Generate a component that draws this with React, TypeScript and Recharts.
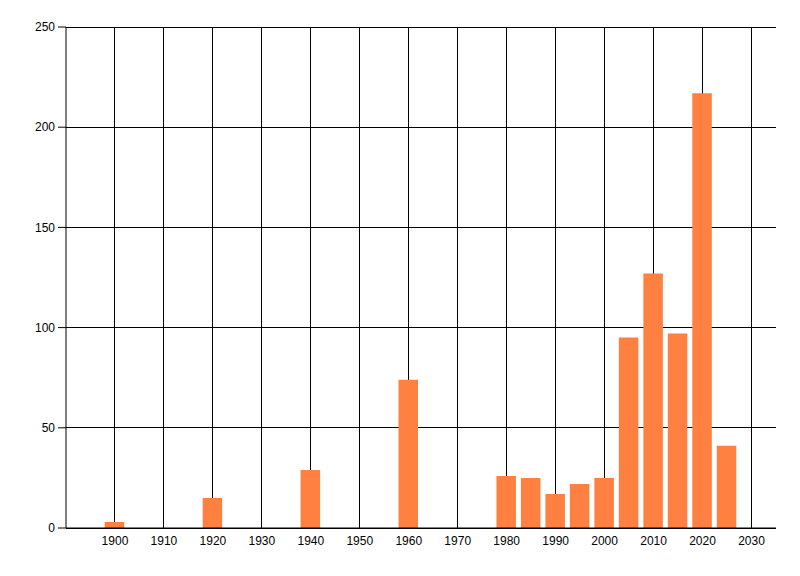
import { BarChart, Bar, XAxis, YAxis, CartesianGrid } from 'recharts'

const years = [1900, 1920, 1940, 1960, 1980, 1985, 1990, 1995, 2000, 2005, 2010, 2015, 2020, 2025]
const counts = [3, 15, 29, 74, 26, 25, 17, 22, 25, 95, 127, 97, 217, 41]

const xTicks = [1900, 1910, 1920, 1930, 1940, 1950, 1960, 1970, 1980, 1990, 2000, 2010, 2020, 2030]
const yTicks = [0, 50, 100, 150, 200, 250]

const data = years.map((year, i) => ({ year, count: counts[i] }))

const tickStyle = { fill: '#000000', fontSize: 12, fontFamily: '"Liberation Sans", Arial, sans-serif' }

export default function App() {
  return (
    <div style={{ position: 'absolute', left: 0, top: 0, width: 800, height: 576, background: '#ffffff' }}>
      <BarChart
        width={800}
        height={576}
        data={data}
        margin={{ top: 27, right: 24, left: 6, bottom: 18 }}
      >
        <CartesianGrid
          stroke="#000000"
          strokeWidth={1}
          verticalValues={xTicks}
          horizontalValues={yTicks}
          shapeRendering="crispEdges"
        />
        <XAxis
          dataKey="year"
          type="number"
          domain={[1890, 2035]}
          ticks={xTicks}
          interval={0}
          allowDataOverflow
          height={30}
          tickLine={false}
          axisLine={{ stroke: '#000000' }}
          tick={tickStyle}
        />
        <YAxis
          type="number"
          domain={[0, 250]}
          ticks={yTicks}
          interval={0}
          width={60}
          tickSize={8}
          tickMargin={3}
          tickLine={{ stroke: '#000000' }}
          axisLine={{ stroke: '#000000' }}
          tick={tickStyle}
        />
        <Bar dataKey="count" fill="#FF8040" barSize={19.5} isAnimationActive={false} />
      </BarChart>
    </div>
  )
}
